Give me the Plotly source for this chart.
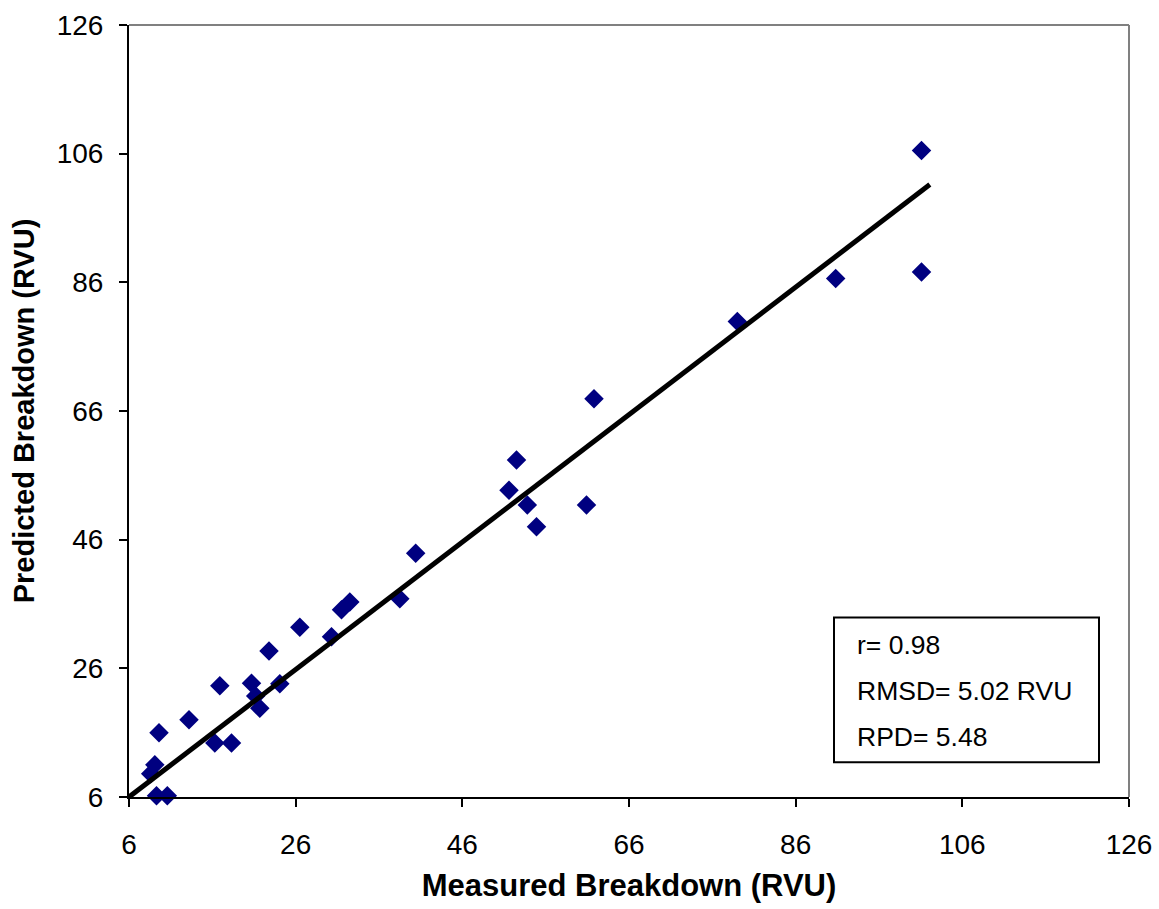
import plotly.graph_objects as go

# Measured vs predicted breakdown (RVU)
measured = [101.1, 101.1, 90.8, 79.0, 61.8, 52.5, 51.6, 53.8, 60.9, 54.9,
            40.4, 38.5, 32.5, 31.5, 30.3, 26.5, 22.8, 24.1, 20.7, 21.2,
            21.7, 16.9, 13.2, 16.3, 18.3, 9.6, 9.1, 8.6, 9.3, 10.6]
predicted = [106.5, 87.6, 86.6, 79.9, 67.9, 58.4, 53.7, 51.4, 51.4, 48.0,
             43.9, 36.8, 36.3, 35.1, 30.9, 32.4, 28.7, 23.6, 23.7, 21.7,
             19.8, 23.3, 18.0, 14.4, 14.4, 16.0, 11.0, 9.6, 6.2, 6.2]

fit_x = [6.0, 102.1]
fit_y = [6.0, 101.2]

tick_vals = [6, 26, 46, 66, 86, 106, 126]
stats_lines = ["r= 0.98", "RMSD= 5.02 RVU", "RPD= 5.48"]

FONT = "Arial, Liberation Sans, sans-serif"

fig = go.Figure()
fig.add_trace(go.Scatter(x=measured, y=predicted, mode="markers",
                         marker=dict(symbol="diamond", size=15, color="#000080",
                                     line=dict(width=0)),
                         showlegend=False, cliponaxis=False))
fig.add_trace(go.Scatter(x=fit_x, y=fit_y, mode="lines",
                         line=dict(color="black", width=5),
                         showlegend=False, cliponaxis=False))

axis_common = dict(range=[6, 126], tickvals=tick_vals, ticktext=[str(v) for v in tick_vals],
                   showgrid=False, zeroline=False, showline=True, linecolor="black",
                   linewidth=2, ticks="outside", ticklen=8, tickwidth=2, tickcolor="black",
                   automargin=False,
                   tickfont=dict(family=FONT, size=28, color="black"))

fig.update_xaxes(**axis_common, ticklabelstandoff=13,
                 title=dict(text="<b>Measured Breakdown (RVU)</b>",
                            font=dict(family=FONT, size=31, color="black"), standoff=16))
fig.update_yaxes(**axis_common, ticklabelstandoff=10,
                 title=dict(text="<b>Predicted Breakdown (RVU)</b>",
                            font=dict(family=FONT, size=29, color="black"), standoff=14))

# gray top and right frame
fig.add_shape(type="line", xref="paper", yref="paper", x0=0, x1=1, y0=1, y1=1,
              line=dict(color="#808080", width=2))
fig.add_shape(type="line", xref="paper", yref="paper", x0=1, x1=1, y0=0, y1=1,
              line=dict(color="#808080", width=2))

# stats box
fig.add_shape(type="rect", xref="x", yref="y", x0=90.6, x1=122.4, y0=11.4, y1=33.9,
              line=dict(color="black", width=2), fillcolor="white", layer="above")
for txt, yy in zip(stats_lines, [29.6, 22.5, 15.4]):
    fig.add_annotation(x=93.1, y=yy, xref="x", yref="y", text=txt, showarrow=False,
                       xanchor="left", yanchor="middle",
                       font=dict(family=FONT, size=26.5, color="black"))

fig.update_layout(width=1159, height=909, plot_bgcolor="white", paper_bgcolor="white",
                  margin=dict(l=129, r=30, t=25, b=112))

fig.write_html("out.html")
